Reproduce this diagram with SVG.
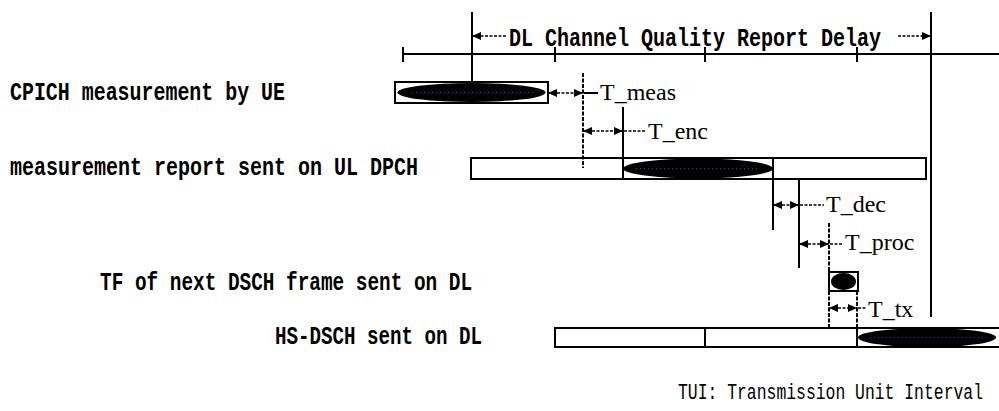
<svg xmlns="http://www.w3.org/2000/svg" width="999" height="411" viewBox="0 0 999 411">
<style>
.lbl{font-family:"Liberation Mono",monospace;font-size:26px;font-weight:bold;fill:#000}
.tui{font-family:"Liberation Mono",monospace;font-size:17px;fill:#000}
.t{font-family:"Liberation Serif","Times New Roman",serif;font-size:24px;fill:#000}
.bar{fill:#fff;stroke:#000;stroke-width:2}
.blob{fill:#000}
.dots{stroke:#3a3ad0;stroke-width:1.2;stroke-dasharray:1 3;fill:none}
.ln{stroke:#000;stroke-width:2;fill:none}
.dl{stroke:#000;stroke-width:2;fill:none;stroke-dasharray:4 1.5}
.arr{stroke:#000;stroke-width:1.5;fill:none;stroke-dasharray:3 1.5;marker-start:url(#ah);marker-end:url(#ah)}
.arr1{stroke:#000;stroke-width:1.5;fill:none;stroke-dasharray:3 1.5;marker-end:url(#ah)}
.tk{stroke:#000;stroke-width:1.5;fill:none;stroke-dasharray:3 1.5}
</style>
<defs>
<marker id="ah" viewBox="0 0 9 8" refX="9" refY="4" markerWidth="9" markerHeight="8" markerUnits="userSpaceOnUse" orient="auto-start-reverse">
<path d="M0,0 L9,4 L0,8 z" fill="#000"/>
</marker>
</defs>
<rect width="999" height="411" fill="#fff"/>

<g id="timeline">
<line class="ln" x1="403" y1="54" x2="999" y2="54"/>
<line class="ln" x1="403" y1="47" x2="403" y2="62"/>
<line class="ln" x1="555" y1="47" x2="555" y2="62"/>
<line class="ln" x1="705" y1="47" x2="705" y2="62"/>
<line class="ln" x1="857" y1="47" x2="857" y2="62"/>
<text class="lbl" x="509" y="46" textLength="372" lengthAdjust="spacingAndGlyphs">DL Channel Quality Report Delay</text>
</g>

<g id="cpich">
<text class="lbl" x="10" y="100" textLength="275" lengthAdjust="spacingAndGlyphs">CPICH measurement by UE</text>
<rect class="bar" x="395" y="82" width="153" height="21"/>
<ellipse class="blob" cx="471.5" cy="92.5" rx="74" ry="9.5"/>
<line class="dots" x1="412" y1="92.5" x2="535" y2="92.5"/>
</g>

<g id="ul-dpch">
<text class="lbl" x="10" y="175" textLength="408" lengthAdjust="spacingAndGlyphs">measurement report sent on UL DPCH</text>
<rect class="bar" x="471" y="158" width="455" height="21"/>
<line class="ln" x1="623" y1="158" x2="623" y2="179"/>
<line class="ln" x1="773" y1="158" x2="773" y2="179"/>
<ellipse class="blob" cx="698" cy="168.5" rx="75" ry="10"/>
<line class="dots" x1="636" y1="168.5" x2="760" y2="168.5"/>
</g>

<g id="tf">
<text class="lbl" x="100" y="290" textLength="372" lengthAdjust="spacingAndGlyphs">TF of next DSCH frame sent on DL</text>
<rect class="bar" x="829" y="272" width="29" height="19"/>
<ellipse class="blob" cx="843.5" cy="281.5" rx="12.5" ry="8.5"/>
</g>

<g id="hs-dsch">
<text class="lbl" x="275" y="344" textLength="207" lengthAdjust="spacingAndGlyphs">HS-DSCH sent on DL</text>
<rect class="bar" x="555" y="328" width="455" height="19"/>
<line class="ln" x1="705" y1="328" x2="705" y2="347"/>
<line class="ln" x1="857" y1="328" x2="857" y2="347"/>
<ellipse class="blob" cx="927" cy="337.5" rx="69" ry="9.5"/>
<line class="dots" x1="870" y1="337.5" x2="990" y2="337.5"/>
</g>

<g id="legend">
<text class="tui" transform="translate(678,399) scale(1,1.3)" x="0" y="0" textLength="305" lengthAdjust="spacingAndGlyphs">TUI: Transmission Unit Interval</text>
</g>

<g id="connectors">
<line class="ln" x1="472" y1="12" x2="472" y2="83"/>
<line class="ln" x1="931" y1="12" x2="931" y2="317"/>
<line class="arr1" x1="506" y1="36" x2="472" y2="36"/>
<line class="arr1" x1="898" y1="36" x2="931" y2="36"/>

<line class="dl" x1="583" y1="73" x2="583" y2="168"/>
<line class="arr" x1="548" y1="93" x2="583" y2="93"/>
<line class="ln" x1="584" y1="93" x2="598" y2="93"/>
<text class="t" x="600" y="100">T_meas</text>

<line class="ln" x1="623" y1="107" x2="623" y2="158"/>
<line class="arr" x1="583" y1="131" x2="623" y2="131"/>
<line class="tk" x1="624" y1="131" x2="646" y2="131"/>
<text class="t" x="648" y="139">T_enc</text>

<line class="ln" x1="773" y1="179" x2="773" y2="230"/>
<line class="ln" x1="799" y1="179" x2="799" y2="268"/>
<line class="arr" x1="773" y1="205" x2="799" y2="205"/>
<line class="tk" x1="800" y1="205" x2="824" y2="205"/>
<text class="t" x="826" y="212">T_dec</text>

<line class="dl" x1="829" y1="223" x2="829" y2="272"/>
<line class="arr" x1="799" y1="244" x2="829" y2="244"/>
<line class="tk" x1="830" y1="244" x2="843" y2="244"/>
<text class="t" x="845" y="250">T_proc</text>

<line class="dl" x1="829" y1="291" x2="829" y2="328"/>
<line class="dl" x1="857" y1="291" x2="857" y2="328"/>
<line class="arr" x1="829" y1="308" x2="857" y2="308"/>
<line class="tk" x1="858" y1="308" x2="866" y2="308"/>
<text class="t" x="868" y="317">T_tx</text>
</g>
</svg>
